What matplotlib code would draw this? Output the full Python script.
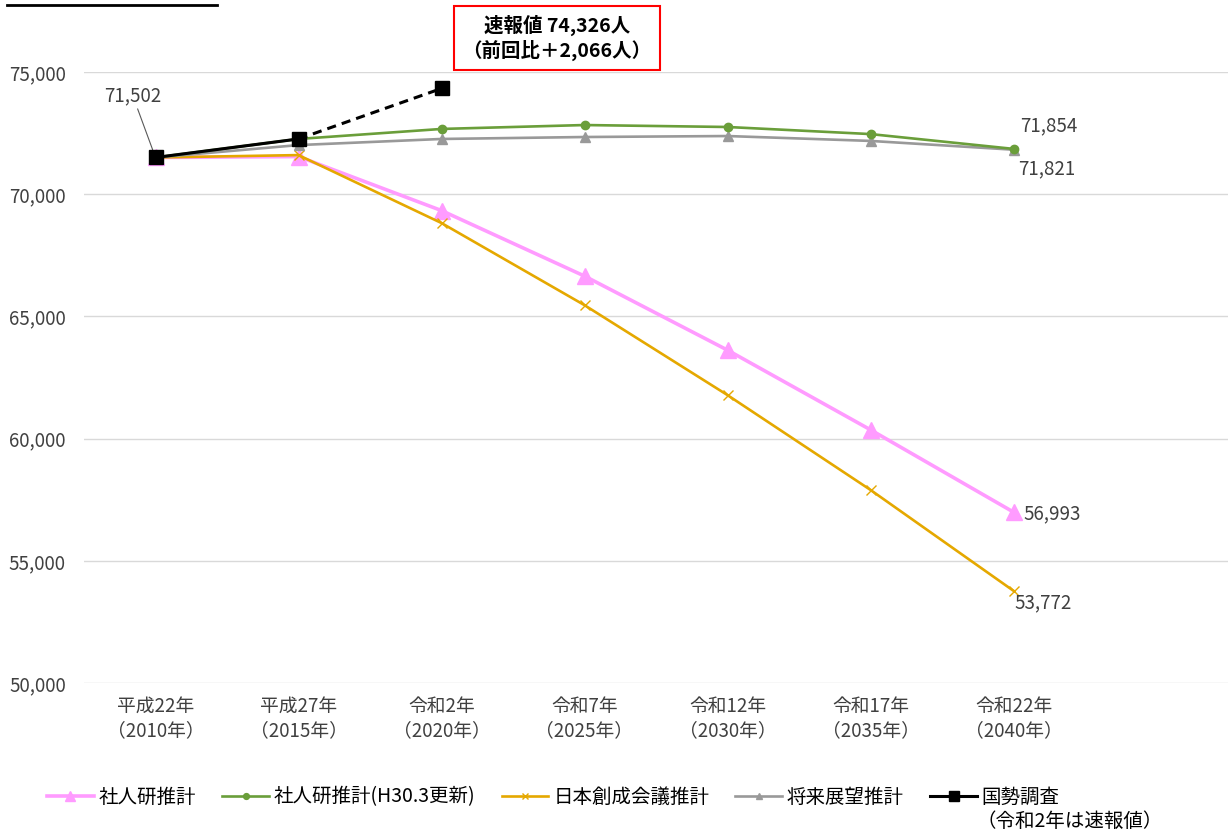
import matplotlib.pyplot as plt
from matplotlib.lines import Line2D
from matplotlib.ticker import FuncFormatter

plt.rcParams['font.family'] = ['Noto Sans CJK JP', 'DejaVu Sans']

# 推計値（人）
years = ['平成22年\n（2010年）', '平成27年\n（2015年）', '令和2年\n（2020年）', '令和7年\n（2025年）',
         '令和12年\n（2030年）', '令和17年\n（2035年）', '令和22年\n（2040年）']
ipss = [71502, 71540, 69330, 66650, 63620, 60360, 56993]
ipss_h30 = [71502, 72260, 72670, 72830, 72750, 72460, 71854]
nihon_sosei = [71502, 71600, 68820, 65460, 61780, 57900, 53772]
vision = [71502, 72010, 72260, 72340, 72380, 72180, 71821]
census = [71502, 72260]
census_prelim = 74326
diff_prev = census_prelim - census[-1]

labels = ['社人研推計', '社人研推計(H30.3更新)', '日本創成会議推計', '将来展望推計', '国勢調査']
colors = ['#ff9bff', '#6a9e3a', '#e5a800', '#999999', '#000000']

fig = plt.figure(figsize=(12.28, 8.30), dpi=100)
ax = fig.add_axes([84 / 1228, 147 / 830, 1 - 84 / 1228, (683 - 72) / 830])

x = list(range(len(years)))
ax.plot(x, ipss, color=colors[0], lw=2.6, marker='^', ms=11, label=labels[0], zorder=3)
ax.plot(x, ipss_h30, color=colors[1], lw=1.9, marker='o', ms=6, label=labels[1], zorder=4)
ax.plot(x, nihon_sosei, color=colors[2], lw=1.9, marker='x', ms=7, mew=1, label=labels[2], zorder=3)
ax.plot(x, vision, color=colors[3], lw=1.9, marker='^', ms=7, label=labels[3], zorder=3)
ax.plot([1, 2], [census[-1], census_prelim], color='black', lw=2.2, ls=(0, (3, 2)), zorder=5)
ax.plot(x[:2], census, color='black', lw=2.2, marker='s', ms=10, label=labels[4], zorder=6)
ax.plot([2], [census_prelim], color='black', marker='s', ms=10, zorder=6)

ax.set_xlim(-0.5, 7.5)
ax.set_ylim(50000, 75000)
ax.set_yticks(range(50000, 75001, 5000))
ax.yaxis.set_major_formatter(FuncFormatter(lambda v, p: f'{int(v):,}'))
ax.set_xticks(x)
ax.set_xticklabels(years, linespacing=1.25)
ax.tick_params(axis='both', length=0, labelsize=13.5, colors='#404040')
ax.tick_params(axis='y', pad=13)
ax.tick_params(axis='x', pad=9)
ax.grid(axis='y', color='#d9d9d9', lw=1)
ax.set_axisbelow(True)
for s in ax.spines.values():
    s.set_visible(False)

# 数値ラベル
lab = dict(fontsize=13.5, color='#404040')
ax.annotate(f'{ipss[0]:,}', xy=(0, ipss[0]), xytext=(-37, 37), textcoords='offset points',
            va='bottom', arrowprops=dict(arrowstyle='-', color='#595959', lw=0.8, shrinkA=0, shrinkB=6), **lab)
ax.annotate(f'{ipss_h30[-1]:,}', xy=(6, ipss_h30[-1]), xytext=(5, 9), textcoords='offset points', va='bottom', **lab)
ax.annotate(f'{vision[-1]:,}', xy=(6, vision[-1]), xytext=(3, -6), textcoords='offset points', va='top', **lab)
ax.annotate(f'{ipss[-1]:,}', xy=(6, ipss[-1]), xytext=(7, -1), textcoords='offset points', va='center', **lab)
ax.annotate(f'{nihon_sosei[-1]:,}', xy=(6, nihon_sosei[-1]), xytext=(1, -1), textcoords='offset points', va='top', **lab)

# 速報値の注記
fig.text(557 / 1228, 1 - 38 / 830, f'速報値 {census_prelim:,}人\n（前回比＋{diff_prev:,}人）',
         ha='center', va='center', fontsize=14, fontweight='bold', linespacing=1.2,
         bbox=dict(boxstyle='square,pad=0.45', fc='white', ec='#ff0000', lw=1.5))

fig.add_artist(Line2D([7 / 1228, 217 / 1228], [1 - 5 / 830, 1 - 5 / 830], color='black', lw=2))

leg = fig.legend(loc='lower left', bbox_to_anchor=(0.024, 0.006), ncol=5, frameon=False,
                 fontsize=14, handlelength=2.4, columnspacing=1.35, handletextpad=0.25, markerscale=0.7)
fig.canvas.draw()
t = leg.get_texts()[-1]
bb = t.get_window_extent().transformed(fig.transFigure.inverted())
fig.text(bb.x0 - 0.004, bb.y0 - 0.004, '（令和2年は速報値）', fontsize=14, va='top', ha='left')

fig.savefig('out.png', dpi=100)
